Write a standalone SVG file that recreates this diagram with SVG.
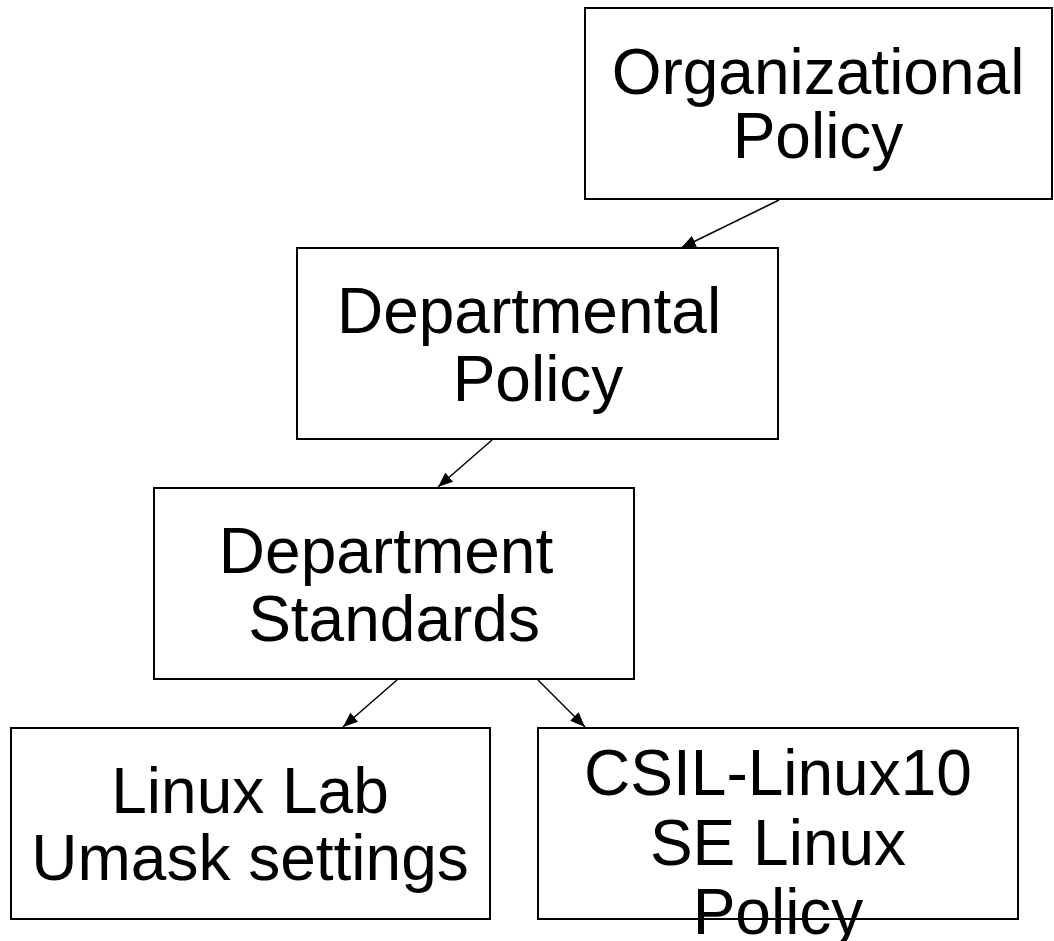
<svg xmlns="http://www.w3.org/2000/svg" width="1054" height="941" viewBox="0 0 1054 941">
<style>
  .box{fill:#fff;stroke:#000;stroke-width:2}
  .lbl{font-family:"Liberation Sans",Arial,sans-serif;font-size:64px;fill:#000;text-anchor:middle}
  .edge{stroke:#000;stroke-width:1.5;fill:none;marker-end:url(#ah)}
</style>
<defs>
  <marker id="ah" markerUnits="userSpaceOnUse" markerWidth="16" markerHeight="12" refX="15" refY="6" orient="auto">
    <path d="M0,0 L15,6 L0,12 Z" fill="#000"/>
  </marker>
</defs>
<rect width="1054" height="941" fill="#fff"/>
<g id="connectors">
  <line class="edge" x1="779" y1="200" x2="681" y2="248"/>
  <line class="edge" x1="492" y1="440" x2="438" y2="487"/>
  <line class="edge" x1="397" y1="680" x2="343" y2="727"/>
  <line class="edge" x1="538" y1="680" x2="585" y2="727"/>
</g>
<g id="org">
  <rect class="box" x="585" y="8" width="467" height="191"/>
  <text class="lbl" x="818" y="94">Organizational</text>
  <text class="lbl" x="818" y="158">Policy</text>
</g>
<g id="deptpolicy">
  <rect class="box" x="297" y="248" width="481" height="191"/>
  <text class="lbl" x="529" y="333">Departmental</text>
  <text class="lbl" x="538" y="401">Policy</text>
</g>
<g id="deptstandards">
  <rect class="box" x="154" y="488" width="480" height="191"/>
  <text class="lbl" x="386" y="573">Department</text>
  <text class="lbl" x="394" y="641">Standards</text>
</g>
<g id="linuxlab">
  <rect class="box" x="11" y="728" width="479" height="191"/>
  <text class="lbl" x="250" y="813">Linux Lab</text>
  <text class="lbl" x="250" y="880">Umask settings</text>
</g>
<g id="csil">
  <rect class="box" x="538" y="728" width="480" height="191"/>
  <text class="lbl" x="778" y="795">CSIL-Linux10</text>
  <text class="lbl" x="778" y="865">SE Linux</text>
  <text class="lbl" x="778" y="934">Policy</text>
</g>
</svg>
